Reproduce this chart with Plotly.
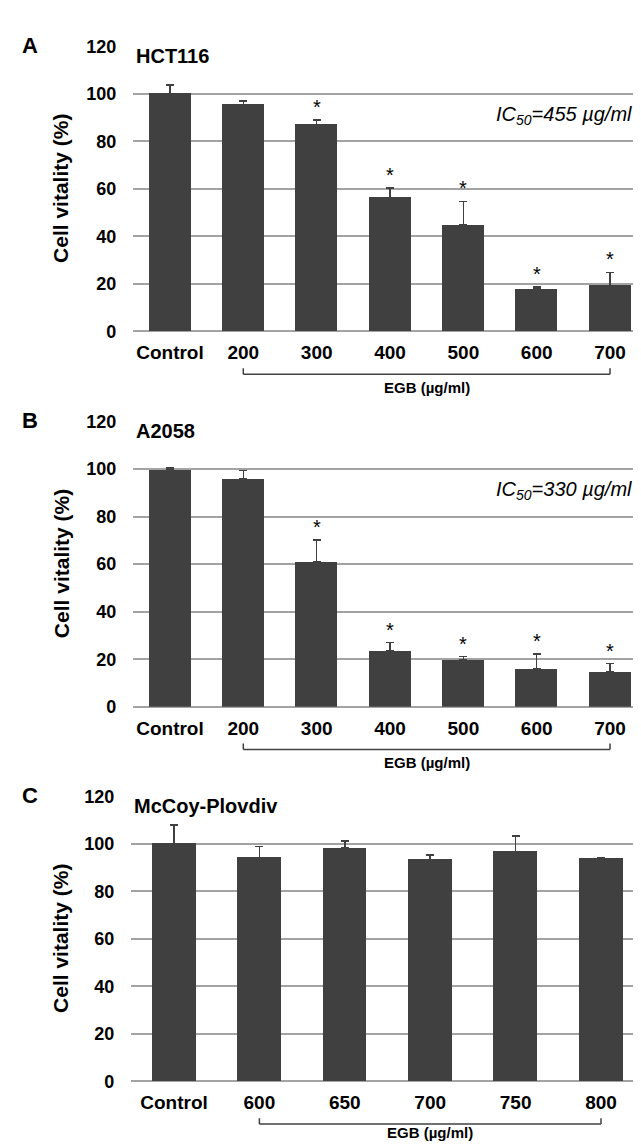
import plotly.graph_objects as go

# ---------------- data ----------------
cats_A = ["Control", "200", "300", "400", "500", "600", "700"]
vals_A = [100.0, 95.6, 87.0, 56.4, 44.8, 17.8, 19.2]
err_A = [3.7, 1.5, 2.0, 4.0, 10.0, 1.0, 5.7]
sig_A = [False, False, True, True, True, True, True]

cats_B = ["Control", "200", "300", "400", "500", "600", "700"]
vals_B = [100.0, 95.9, 61.2, 23.6, 19.7, 15.9, 14.9]
err_B = [0.7, 3.4, 9.0, 3.4, 1.4, 6.2, 3.2]
sig_B = [False, False, True, True, True, True, True]

cats_C = ["Control", "600", "650", "700", "750", "800"]
vals_C = [100.0, 94.2, 98.3, 93.4, 96.8, 93.8]
err_C = [7.9, 4.7, 3.0, 2.0, 6.6, 0.3]
sig_C = [False, False, False, False, False, False]

y_ticks = [0, 20, 40, 60, 80, 100, 120]
panel_letters = ["A", "B", "C"]
cell_lines = ["HCT116", "A2058", "McCoy-Plovdiv"]
ic50_texts = ["<i>IC<sub>50</sub>=455 µg/ml</i>", "<i>IC<sub>50</sub>=330 µg/ml</i>", None]
ic50_level = 91
y_title = "Cell vitality (%)"
egb_label = "EGB (µg/ml)"

# ---------------- layout helpers ----------------
W, H = 641, 1144
FONT = "Liberation Sans, Arial, sans-serif"
BAR = "#404040"
GRID = "#a3a3a3"


def px(x):
    return x / W


def py(y):
    return 1 - y / H


# panel geometry in pixels
panels = [
    dict(top=29, bottom=319, left=125.3, right=638.7, bw=0.573, egb=57,
         cats=cats_A, vals=vals_A, err=err_A, sig=sig_A),
    dict(top=410.7, bottom=701, left=125.3, right=638.7, bw=0.573, egb=57,
         cats=cats_B, vals=vals_B, err=err_B, sig=sig_B),
    dict(top=792.3, bottom=1082.3, left=123.3, right=635.7, bw=0.515, egb=52,
         cats=cats_C, vals=vals_C, err=err_C, sig=sig_C),
]

fig = go.Figure()
annotations = []
shapes = []

for i, p in enumerate(panels):
    n = i + 1
    xa = "x" if n == 1 else f"x{n}"
    ya = "y" if n == 1 else f"y{n}"
    fig.add_trace(go.Bar(
        x=p["cats"], y=p["vals"], xaxis=xa, yaxis=ya,
        width=p["bw"], marker=dict(color=BAR, line=dict(width=0)),
        error_y=dict(type="data", array=p["err"], symmetric=False,
                     arrayminus=[0] * len(p["err"]), color=BAR,
                     thickness=1.5, width=4),
        showlegend=False, hoverinfo="x+y",
    ))
    xkey = "xaxis" if n == 1 else f"xaxis{n}"
    ykey = "yaxis" if n == 1 else f"yaxis{n}"
    fig.update_layout(**{
        xkey: dict(domain=[px(p["left"]), px(p["right"])], anchor=ya,
                   type="category", range=[-0.5, len(p["cats"]) - 0.5],
                   showgrid=False, showline=False, ticks="",
                   ticklabelstandoff=8,
                   tickfont=dict(family=FONT, size=19, color="black", weight="bold")),
        ykey: dict(domain=[py(p["bottom"]), py(p["top"])], anchor=xa,
                   range=[0, 120], tickvals=y_ticks, showgrid=True,
                   gridcolor=GRID, gridwidth=1.5, zeroline=True,
                   zerolinecolor=GRID, zerolinewidth=1.5, showline=False,
                   ticks="", ticklabelstandoff=16,
                   tickfont=dict(family=FONT, size=18, color="black", weight="bold")),
    })

    # significance stars (category index positions)
    for k, (v, e, s) in enumerate(zip(p["vals"], p["err"], p["sig"])):
        if s:
            annotations.append(dict(x=k, y=v + e, xref=xa, yref=ya, text="*",
                                    showarrow=False, xanchor="center", yanchor="bottom",
                                    font=dict(family=FONT, size=20, color="black")))

    # panel letter
    annotations.append(dict(x=px(22), y=py(p["top"] - 1), xref="paper", yref="paper",
                            text=panel_letters[i], showarrow=False, xanchor="center",
                            yanchor="middle",
                            font=dict(family=FONT, size=22, color="black", weight="bold")))
    # cell line name
    annotations.append(dict(x=px(p["left"] + 0.5), y=py(p["top"] + 10), xref="paper",
                            yref="paper", text=cell_lines[i], showarrow=False,
                            xanchor="left", yanchor="middle",
                            font=dict(family=FONT, size=20, color="black", weight="bold")))
    # y title
    annotations.append(dict(x=px(53), y=py((p["top"] + p["bottom"]) / 2), xref="paper",
                            yref="paper", text=y_title, showarrow=False, textangle=-90,
                            xanchor="center", yanchor="middle",
                            font=dict(family=FONT, size=21, color="black", weight="bold")))
    # IC50
    if ic50_texts[i]:
        annotations.append(dict(x=px(486), y=ic50_level, xref="paper",
                                yref=ya, text=ic50_texts[i], showarrow=False,
                                xanchor="left", yanchor="middle",
                                font=dict(family=FONT, size=20, color="black")))
    # bracket below the EGB concentrations
    first, last = 1, len(p["cats"]) - 1
    yb = p["bottom"] + 43.5
    for sx0, sy0, sx1, sy1 in [(first, yb, last, yb), (first, yb - 6, first, yb),
                               (last, yb - 6, last, yb)]:
        shapes.append(dict(type="line", xref=xa, yref="paper", x0=sx0, x1=sx1,
                           y0=py(sy0), y1=py(sy1),
                           line=dict(color=BAR, width=1.5)))
    annotations.append(dict(x=(first + last) / 2, y=py(p["bottom"] + p["egb"]), xref=xa,
                            yref="paper", text=egb_label, showarrow=False,
                            xanchor="center", yanchor="middle",
                            font=dict(family=FONT, size=15, color="black", weight="bold")))

fig.update_layout(
    width=W, height=H, margin=dict(l=0, r=0, t=0, b=0),
    paper_bgcolor="white", plot_bgcolor="white",
    annotations=annotations, shapes=shapes, bargap=0,
)

fig.write_html("out.html")
